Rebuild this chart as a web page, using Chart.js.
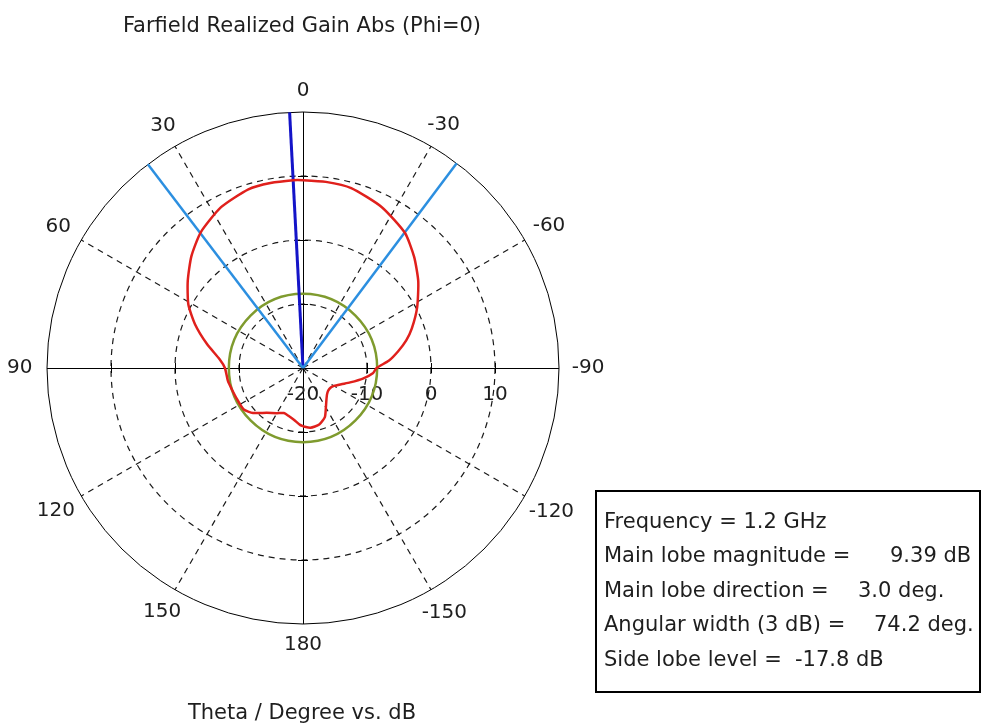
<!DOCTYPE html>
<html>
<head>
<meta charset="utf-8">
<script src="https://cdn.jsdelivr.net/npm/chart.js@4/dist/chart.umd.min.js"></script>
<style>
  html, body { margin: 0; padding: 0; background: #fff; }
  body {
    width: 982px; height: 727px; position: relative; overflow: hidden;
    font-family: "DejaVu Sans", sans-serif; color: #1e1e1e;
  }
  #wrap { position: absolute; left: 0; top: 0; width: 982px; height: 727px; }
  .caption { position: absolute; left: 0; width: 604px; text-align: center; font-size: 21px; line-height: 24px; }
  #info {
    position: absolute; left: 595px; top: 490px; width: 386px; height: 203px;
    border: 2px solid #000; box-sizing: border-box;
  }
  .row { position: absolute; left: 7px; font-size: 21px; line-height: 24px; white-space: nowrap; }
  .row .val { position: absolute; top: 0; }
</style>
</head>
<body>
<div id="wrap"><canvas id="polar"></canvas></div>
<div class="caption" style="top:13px">Farfield Realized Gain Abs (Phi=0)</div>
<div class="caption" style="top:700px">Theta / Degree vs. dB</div>
<div id="info">
  <div class="row" style="top:17px">Frequency = 1.2 GHz</div>
  <div class="row" style="top:51px">Main lobe magnitude =<span class="val" style="left:286px">9.39 dB</span></div>
  <div class="row" style="top:86px">Main lobe direction =<span class="val" style="left:254px">3.0 deg.</span></div>
  <div class="row" style="top:120px">Angular width (3 dB) =<span class="val" style="left:270px">74.2 deg.</span></div>
  <div class="row" style="top:155px">Side lobe level =<span class="val" style="left:191px">-17.8 dB</span></div>
</div>
<script>
// radial scale (dB)
const rMin = -20;
const rMax = 20;
const ringValues = [-10, 0, 10];
const tickValues = [-20, -10, 0, 10];
const angleTicks = [0, 30, 60, 90, 120, 150, 180, -150, -120, -90, -60, -30];

// farfield pattern, theta in degrees (positive = counter-clockwise from top)
const thetaDeg = [-180, -173, -164, -156, -150, -145, -138, -132, -125, -120, -113, -107, -100, -94, -90, -85, -80, -75, -70, -62, -53, -45, -37, -26, -15, -7, 0, 3, 10, 17, 27, 37, 45, 53, 61, 68, 76, 84, 90, 100, 107, 115, 125, 132, 141, 150, 157, 163, 170, 177, 180];
const gainDb = [-10.9, -10.6, -10.8, -11.6, -12.85, -13.65, -14.4, -14.7, -14.7, -14.4, -13.5, -12.3, -10.5, -9.0, -8.5, -6.5, -4.9, -3.3, -1.9, 0.2, 2.55, 4.56, 6.45, 8.0, 9.1, 9.3, 9.35, 9.39, 9.35, 9.2, 8.2, 6.55, 4.67, 2.55, 0.48, -1.82, -4.54, -6.9, -7.8, -8.1, -8.4, -8.6, -8.7, -9.5, -10.98, -11.85, -12.35, -12.2, -11.8, -11.1, -10.9];

const mainLobeDir = 3.0;
const beamEdges = [37.3, -36.9];
const sideLobeLevel = -8.41; // 9.39 - 17.8

const FONT = '"DejaVu Sans", sans-serif';

function toXY(theta, db) {
  const r = Math.max(0, db - rMin);
  const a = theta * Math.PI / 180;
  return { x: -r * Math.sin(a), y: r * Math.cos(a) };
}

const patternPts = thetaDeg.map((t, i) => toXY(t, gainDb[i]));
const ray = (t) => [toXY(t, rMin), toXY(t, rMax)];

const polarGrid = {
  id: 'polarGrid',
  beforeDatasetsDraw(chart) {
    const { ctx, scales: { x, y } } = chart;
    const cx = x.getPixelForValue(0);
    const cy = y.getPixelForValue(0);
    const rad = (v) => x.getPixelForValue(v - rMin) - cx;
    const R = rad(rMax);
    const pt = (t, r) => {
      const a = t * Math.PI / 180;
      return [cx - r * Math.sin(a), cy - r * Math.cos(a)];
    };
    const hx = Math.round(cx) + 0.5;
    const hy = Math.round(cy) + 0.5;
    ctx.save();
    ctx.strokeStyle = '#1a1a1a';
    ctx.lineWidth = 1.2;

    // dashed rings
    ctx.setLineDash([6, 5]);
    ringValues.forEach((v) => {
      ctx.beginPath();
      ctx.arc(cx, cy, rad(v), 0, Math.PI * 2);
      ctx.stroke();
    });
    // dashed spokes
    angleTicks.forEach((t) => {
      if (t % 90 === 0) return;
      const [ex, ey] = pt(t, R);
      ctx.beginPath();
      ctx.moveTo(cx, cy);
      ctx.lineTo(ex, ey);
      ctx.stroke();
    });
    ctx.setLineDash([]);

    // outer circle + main axes
    ctx.strokeStyle = '#000';
    ctx.lineWidth = 1;
    ctx.beginPath();
    ctx.arc(cx, cy, R, 0, Math.PI * 2);
    ctx.stroke();
    ctx.beginPath();
    ctx.moveTo(cx - R, hy); ctx.lineTo(cx + R, hy);
    ctx.moveTo(hx, cy - R); ctx.lineTo(hx, cy + R);
    ctx.stroke();

    // small ticks where rings cross the axes
    ringValues.forEach((v) => {
      const d = Math.round(rad(v));
      ctx.beginPath();
      ctx.moveTo(hx + d, cy - 5); ctx.lineTo(hx + d, cy + 5);
      ctx.moveTo(hx - d, cy - 5); ctx.lineTo(hx - d, cy + 5);
      ctx.moveTo(cx - 5, hy + d); ctx.lineTo(cx + 5, hy + d);
      ctx.moveTo(cx - 5, hy - d); ctx.lineTo(cx + 5, hy - d);
      ctx.stroke();
    });

    // dB tick labels along the right axis
    ctx.fillStyle = '#1e1e1e';
    ctx.font = '20px ' + FONT;
    ctx.textAlign = 'center';
    ctx.textBaseline = 'middle';
    tickValues.forEach((v) => {
      ctx.fillText(String(v), cx + rad(v), cy + 27);
    });

    // angle labels
    ctx.font = '20px ' + FONT;
    angleTicks.forEach((t) => {
      const s = String(t);
      const w = ctx.measureText(s).width;
      const a = t * Math.PI / 180;
      const d = R + 21 + (w / 4) * Math.abs(Math.sin(a));
      const [lx, ly] = pt(t, d);
      ctx.fillText(s, lx, ly);
    });

    // side lobe level circle
    ctx.strokeStyle = '#7f9b2e';
    ctx.lineWidth = 2.5;
    ctx.beginPath();
    ctx.arc(cx, cy, rad(sideLobeLevel), 0, Math.PI * 2);
    ctx.stroke();
    ctx.restore();
  }
};

new Chart(document.getElementById('polar'), {
  type: 'scatter',
  data: {
    datasets: [
      {
        label: 'Farfield',
        data: patternPts,
        showLine: true,
        borderColor: '#e0201c',
        borderWidth: 2.5,
        pointRadius: 0,
        tension: 0.2,
        clip: false,
      },
      {
        label: '3 dB edge +',
        data: ray(beamEdges[0]),
        showLine: true,
        borderColor: '#2c8fe0',
        borderWidth: 2.5,
        pointRadius: 0,
        clip: false,
      },
      {
        label: '3 dB edge -',
        data: ray(beamEdges[1]),
        showLine: true,
        borderColor: '#2c8fe0',
        borderWidth: 2.5,
        pointRadius: 0,
        clip: false,
      },
      {
        label: 'Main lobe',
        data: ray(mainLobeDir),
        showLine: true,
        borderColor: '#1414c8',
        borderWidth: 3,
        pointRadius: 0,
        clip: false,
      },
    ],
  },
  options: {
    responsive: true,
    maintainAspectRatio: false,
    animation: false,
    layout: { padding: { left: 47, right: 423, top: 112, bottom: 103 } },
    plugins: { legend: { display: false }, tooltip: { enabled: false }, title: { display: false } },
    scales: {
      x: { type: 'linear', min: -40, max: 40, display: false },
      y: { type: 'linear', min: -40, max: 40, display: false },
    },
  },
  plugins: [polarGrid],
});
</script>
</body>
</html>
